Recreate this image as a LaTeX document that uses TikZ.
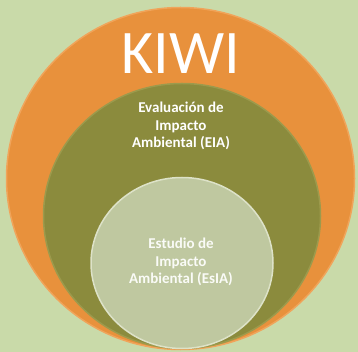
\documentclass[tikz,border=0pt]{standalone}
\usepackage{fontspec}
\setmainfont{Carlito}
\usetikzlibrary{shapes.geometric}
\definecolor{meadow}{HTML}{C9DAA9}
\definecolor{kiwiorange}{HTML}{E8913C}
\definecolor{orangerim}{HTML}{F0A45A}
\definecolor{olive}{HTML}{8B8B3D}
\definecolor{oliverim}{HTML}{9C9A4C}
\definecolor{sage}{HTML}{BFC8A0}
\definecolor{sagerim}{HTML}{DDE2C8}
\tikzstyle{disc}=[
      ellipse,
      inner sep = 0pt,
      line width = 1.5pt
      ]
\tikzstyle{labeltext}=[
      align = center,
      font = \bfseries\fontsize{15}{17.5}\selectfont
      ]
\begin{document}
\begin{tikzpicture}[x=1pt,y=-1pt]
\useasboundingbox (0,0) rectangle (358,352);
\clip (0,0) rectangle (358,352);
\fill[meadow] (0,0) rectangle (358,352);
\node [disc, fill=kiwiorange, draw=orangerim, minimum width=348pt, minimum height=342pt] (kiwi) at (180.5,178.5) {};
\node [disc, fill=olive, draw=oliverim, minimum width=277pt, minimum height=265pt] (eia) at (182,216) {};
\node [disc, fill=sage, draw=sagerim, minimum width=182pt, minimum height=171pt] (esia) at (182,263) {};
\node [text=white, font=\fontsize{62}{62}\selectfont] (kiwititle) at (181,54) {KIWI};
\node [labeltext, text=white] (eiatext) at (181,126) {Evaluación de\\Impacto\\Ambiental (EIA)};
\node [labeltext, text=white!92!sage] (esiatext) at (181,262) {Estudio de\\Impacto\\Ambiental (EsIA)};
\end{tikzpicture}
\end{document}
